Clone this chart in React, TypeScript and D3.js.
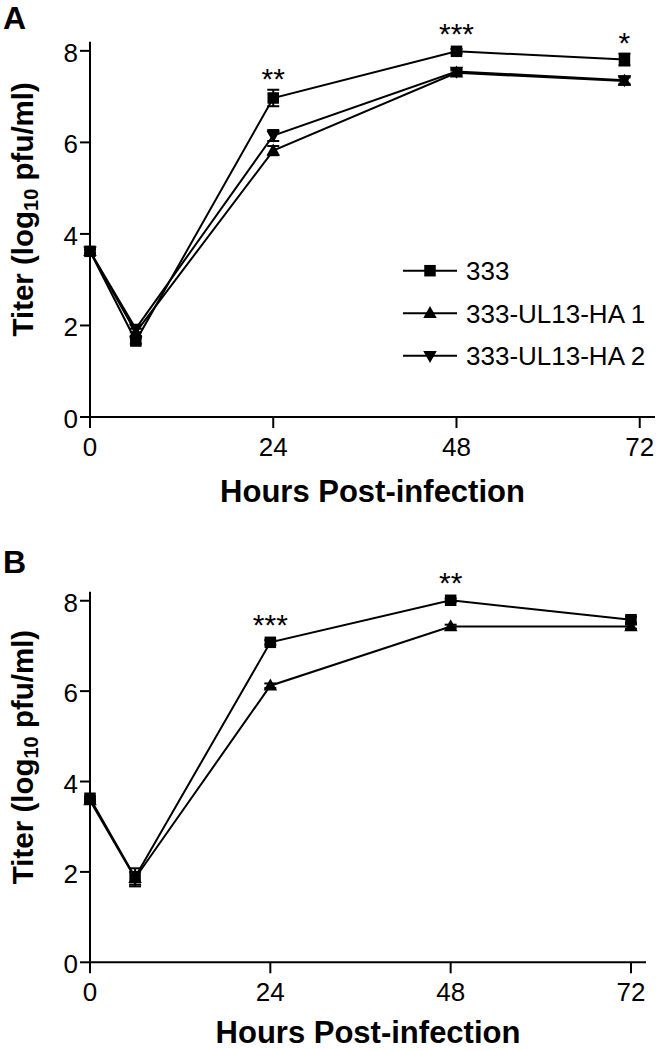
import React from "react";
import * as d3 from "d3";

// ---------- data ----------
const hoursA = [0, 6, 24, 48, 70];
const hoursB = [0, 6, 24, 48, 72];
const seriesNames = ["333", "333-UL13-HA 1", "333-UL13-HA 2"];
const markerTypes = ["square", "up", "down"];

const titerA_333 = [3.62, 1.66, 6.97, 7.99, 7.81];
const errA_333 = [0.04, 0.06, 0.18, 0.05, 0.13];
const titerA_HA1 = [3.62, 1.85, 5.82, 7.52, 7.34];
const errA_HA1 = [0.04, 0.08, 0.1, 0.05, 0.08];
const titerA_HA2 = [3.62, 1.93, 6.15, 7.55, 7.36];
const errA_HA2 = [0.04, 0.08, 0.12, 0.05, 0.08];

const titerB_333 = [3.63, 1.88, 7.08, 8.01, 7.58];
const errB_333 = [0.04, 0.2, 0.05, 0.04, 0.07];
const titerB_HA1 = [3.58, 1.86, 6.12, 7.43, 7.43];
const errB_HA1 = [0.04, 0.14, 0.05, 0.04, 0.05];

const starsA = [
  { hour: 24, label: "**" },
  { hour: 48, label: "***" },
  { hour: 70, label: "*" },
];
const starsB = [
  { hour: 24, label: "***" },
  { hour: 48, label: "**" },
];

const xTicks = [0, 24, 48, 72];
const yTicks = [0, 2, 4, 6, 8];
const xTitle = "Hours Post-infection";

const FONT = "'Liberation Sans', Arial, Helvetica, sans-serif";

type Series = { name: string; marker: string; values: number[]; errs: number[] };

function Marker({ type, x, y }: { type: string; x: number; y: number }) {
  if (type === "square") {
    const s = 11.5;
    return <rect x={x - s / 2} y={y - s / 2} width={s} height={s} fill="#000" />;
  }
  const w = 13.5;
  const h = 12;
  if (type === "up") {
    return (
      <path
        d={`M${x},${y - h * 0.6}L${x + w / 2},${y + h * 0.4}L${x - w / 2},${y + h * 0.4}Z`}
        fill="#000"
      />
    );
  }
  return (
    <path
      d={`M${x},${y + h * 0.6}L${x + w / 2},${y - h * 0.4}L${x - w / 2},${y - h * 0.4}Z`}
      fill="#000"
    />
  );
}

function Panel({
  letter,
  top,
  xRange,
  yRange,
  hours,
  series,
  stars,
  legend,
  titleGap,
}: {
  letter: string;
  top: number;
  xRange: [number, number];
  yRange: [number, number];
  hours: number[];
  series: Series[];
  stars: { hour: number; label: string }[];
  legend: boolean;
  titleGap: number;
}) {
  const x = d3.scaleLinear().domain([0, 74]).range(xRange);
  const y = d3.scaleLinear().domain([0, 8.2]).range(yRange);
  const line = d3
    .line<number>()
    .x((_, i) => x(hours[i]))
    .y((d) => y(d));
  const y0 = y(0);
  const x0 = x(0);
  const main = series[0];
  return (
    <g>
      <text x={3} y={top} fontFamily={FONT} fontWeight="bold" fontSize={32}>
        {letter}
      </text>
      {/* axes */}
      <line x1={x0} x2={x0} y1={yRange[1]} y2={y0} stroke="#000" strokeWidth={2} />
      <line x1={x0} x2={xRange[1]} y1={y0} y2={y0} stroke="#000" strokeWidth={2} />
      {yTicks.map((t) => (
        <g key={"y" + t}>
          <line x1={x0 - 10} x2={x0} y1={y(t)} y2={y(t)} stroke="#000" strokeWidth={2} />
          <text
            x={x0 - 12}
            y={y(t) + 11}
            textAnchor="end"
            fontFamily={FONT}
            fontSize={26}
          >
            {t}
          </text>
        </g>
      ))}
      {xTicks.map((t) => (
        <g key={"x" + t}>
          <line x1={x(t)} x2={x(t)} y1={y0} y2={y0 + 11} stroke="#000" strokeWidth={2} />
          <text
            x={x(t)}
            y={y0 + 39}
            textAnchor="middle"
            fontFamily={FONT}
            fontSize={26}
          >
            {t}
          </text>
        </g>
      ))}
      <text
        x={(xRange[0] + xRange[1]) / 2}
        y={y0 + titleGap}
        textAnchor="middle"
        fontFamily={FONT}
        fontWeight="bold"
        fontSize={31}
      >
        {xTitle}
      </text>
      <text
        transform={`translate(33,${(yRange[0] + yRange[1]) / 2 - 20}) rotate(-90)`}
        textAnchor="middle"
        fontFamily={FONT}
        fontWeight="bold"
        fontSize={29.5}
      >
        Titer (log
        <tspan fontSize={20} dy={5}>
          10
        </tspan>
        <tspan dy={-5}> pfu/ml)</tspan>
      </text>
      {/* series lines */}
      {series.map((s) => (
        <path key={"l" + s.name} d={line(s.values) || ""} fill="none" stroke="#000" strokeWidth={2} />
      ))}
      {/* error bars */}
      {series.map((s) =>
        s.values.map((v, i) => (
          <g key={"e" + s.name + i} stroke="#000" strokeWidth={2}>
            <line x1={x(hours[i])} x2={x(hours[i])} y1={y(v - s.errs[i])} y2={y(v + s.errs[i])} />
            <line x1={x(hours[i]) - 6} x2={x(hours[i]) + 6} y1={y(v - s.errs[i])} y2={y(v - s.errs[i])} />
            <line x1={x(hours[i]) - 6} x2={x(hours[i]) + 6} y1={y(v + s.errs[i])} y2={y(v + s.errs[i])} />
          </g>
        ))
      )}
      {/* markers */}
      {series
        .slice()
        .reverse()
        .map((s) =>
          s.values.map((v, i) => <Marker key={"m" + s.name + i} type={s.marker} x={x(hours[i])} y={y(v)} />)
        )}
      {/* significance stars */}
      {stars.map((st) => {
        const i = hours.indexOf(st.hour);
        const topV = main.values[i] + main.errs[i];
        return (
          <text
            key={"s" + st.hour}
            x={x(st.hour)}
            y={Math.min(y(topV), y(main.values[i]) - 6) - 1}
            textAnchor="middle"
            fontFamily={FONT}
            fontSize={30}
          >
            {st.label}
          </text>
        );
      })}
      {legend &&
        series.map((s, k) => {
          const ly = 270.7 + k * 42.5;
          return (
            <g key={"lg" + s.name}>
              <line x1={403} x2={457} y1={ly} y2={ly} stroke="#000" strokeWidth={2} />
              <Marker type={s.marker} x={430} y={ly} />
              <text x={466} y={ly + 9.5} fontFamily={FONT} fontSize={26}>
                {s.name}
              </text>
            </g>
          );
        })}
    </g>
  );
}

export default function App() {
  const seriesA: Series[] = [
    { name: seriesNames[0], marker: markerTypes[0], values: titerA_333, errs: errA_333 },
    { name: seriesNames[1], marker: markerTypes[1], values: titerA_HA1, errs: errA_HA1 },
    { name: seriesNames[2], marker: markerTypes[2], values: titerA_HA2, errs: errA_HA2 },
  ];
  const seriesB: Series[] = [
    { name: seriesNames[0], marker: markerTypes[0], values: titerB_333, errs: errB_333 },
    { name: seriesNames[1], marker: markerTypes[1], values: titerB_HA1, errs: errB_HA1 },
  ];
  return (
    <svg
      width={658}
      height={1050}
      style={{ position: "absolute", left: 0, top: 0, background: "#fff" }}
    >
      <rect width={658} height={1050} fill="#fff" />
      <Panel
        letter="A"
        top={29}
        xRange={[90, 655]}
        yRange={[417, 41.7]}
        hours={hoursA}
        series={seriesA}
        stars={starsA}
        legend={true}
        titleGap={85}
      />
      <Panel
        letter="B"
        top={573}
        xRange={[90, 646]}
        yRange={[962.3, 591.7]}
        hours={hoursB}
        series={seriesB}
        stars={starsB}
        legend={false}
        titleGap={80.5}
      />
    </svg>
  );
}
